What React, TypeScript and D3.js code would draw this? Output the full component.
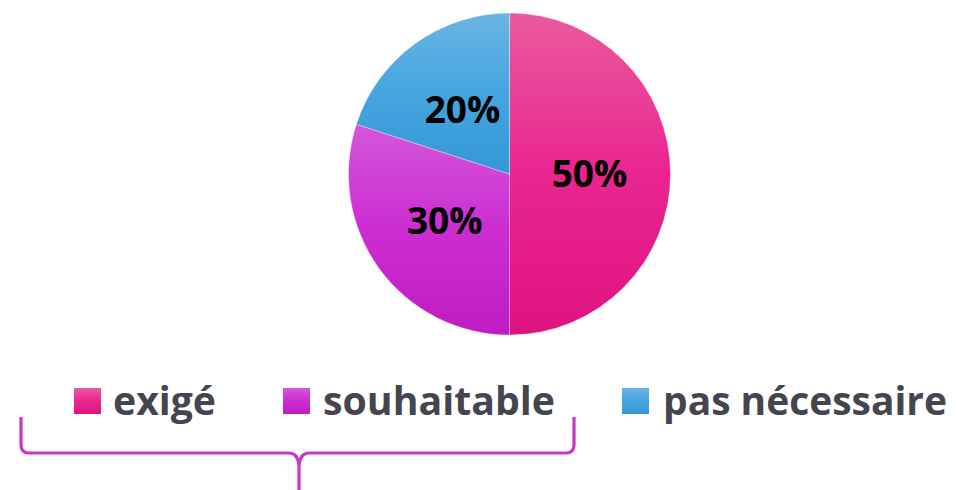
import React, { useEffect, useRef } from "react";
import * as d3 from "d3";

const categories = ["exigé", "souhaitable", "pas nécessaire"];
const values = [50, 30, 20];
const colorsTop = ["#E95A9E", "#D456D8", "#6AB4E3"];
const colorsMid = ["#EA2590", "#CC2DD1", "#45A5DF"];
const colorsBottom = ["#DD1480", "#BF1CC3", "#3498D5"];

const W = 956;
const H = 490;

const App: React.FC = () => {
  const ref = useRef<SVGSVGElement | null>(null);

  useEffect(() => {
    const svg = d3.select(ref.current);
    svg.selectAll("*").remove();

    const cx = 509.5;
    const cy = 174;
    const radius = 161;

    const defs = svg.append("defs");
    categories.forEach((c, i) => {
      const g = defs
        .append("linearGradient")
        .attr("id", "grad" + i)
        .attr("x1", 0)
        .attr("y1", 0)
        .attr("x2", 0)
        .attr("y2", 1);
      g.append("stop").attr("offset", "0%").attr("stop-color", colorsTop[i]);
      g.append("stop").attr("offset", "50%").attr("stop-color", colorsMid[i]);
      g.append("stop").attr("offset", "100%").attr("stop-color", colorsBottom[i]);
    });

    const pie = d3
      .pie<number>()
      .sort(null)
      .value((d) => d);
    const arcs = pie(values);
    const arc = d3.arc<d3.PieArcDatum<number>>().innerRadius(0).outerRadius(radius);
    const labelArc = d3
      .arc<d3.PieArcDatum<number>>()
      .innerRadius(80)
      .outerRadius(80);

    const g = svg.append("g").attr("transform", `translate(${cx},${cy})`);

    g.selectAll("path")
      .data(arcs)
      .enter()
      .append("path")
      .attr("d", arc)
      .attr("fill", (d, i) => `url(#grad${i})`)
      .attr("stroke", "#ffffff")
      .attr("stroke-opacity", 0.4)
      .attr("stroke-width", 0.8);

    const total = d3.sum(values);
    g.selectAll("text.lbl")
      .data(arcs)
      .enter()
      .append("text")
      .attr("class", "lbl")
      .attr("x", (d) => labelArc.centroid(d)[0])
      .attr("y", (d) => labelArc.centroid(d)[1])
      .attr("dy", "0.36em")
      .attr("text-anchor", "middle")
      .attr("font-family", "'Open Sans', sans-serif")
      .attr("font-weight", 700)
      .attr("font-size", 37)
      .attr("fill", "#000000")
      .text((d) => Math.round((d.data / total) * 100) + "%");

    // legend
    const squareX = [74, 283, 622];
    const textX = [113, 323, 663];
    const textW = [103, 232, 284];
    const legend = svg.append("g");
    categories.forEach((c, i) => {
      legend
        .append("rect")
        .attr("x", squareX[i])
        .attr("y", 388)
        .attr("width", 27)
        .attr("height", 26)
        .attr("fill", `url(#grad${i})`);
      legend
        .append("text")
        .attr("x", textX[i])
        .attr("y", 415)
        .attr("font-family", "'Open Sans', sans-serif")
        .attr("font-weight", 700)
        .attr("font-size", 40)
        .attr("fill", "#45454F")
        .attr("textLength", textW[i])
        .attr("lengthAdjust", "spacingAndGlyphs")
        .text(c);
    });

    // brace under the first two legend entries
    const brace = d3.path();
    brace.moveTo(21, 417);
    brace.lineTo(21, 445);
    brace.quadraticCurveTo(21, 453, 29, 453);
    brace.lineTo(289, 453);
    brace.quadraticCurveTo(298, 453, 299, 466);
    brace.lineTo(299, 490);
    brace.moveTo(299, 466);
    brace.quadraticCurveTo(300, 453, 309, 453);
    brace.lineTo(566, 453);
    brace.quadraticCurveTo(574, 453, 574, 445);
    brace.lineTo(574, 417);

    svg
      .append("path")
      .attr("d", brace.toString())
      .attr("fill", "none")
      .attr("stroke", "#C838C8")
      .attr("stroke-width", 3.2)
      .attr("stroke-linejoin", "round");
  }, []);

  return (
    <svg
      ref={ref}
      width={W}
      height={H}
      style={{ position: "absolute", left: 0, top: 0, background: "#ffffff" }}
    />
  );
};

export default App;
